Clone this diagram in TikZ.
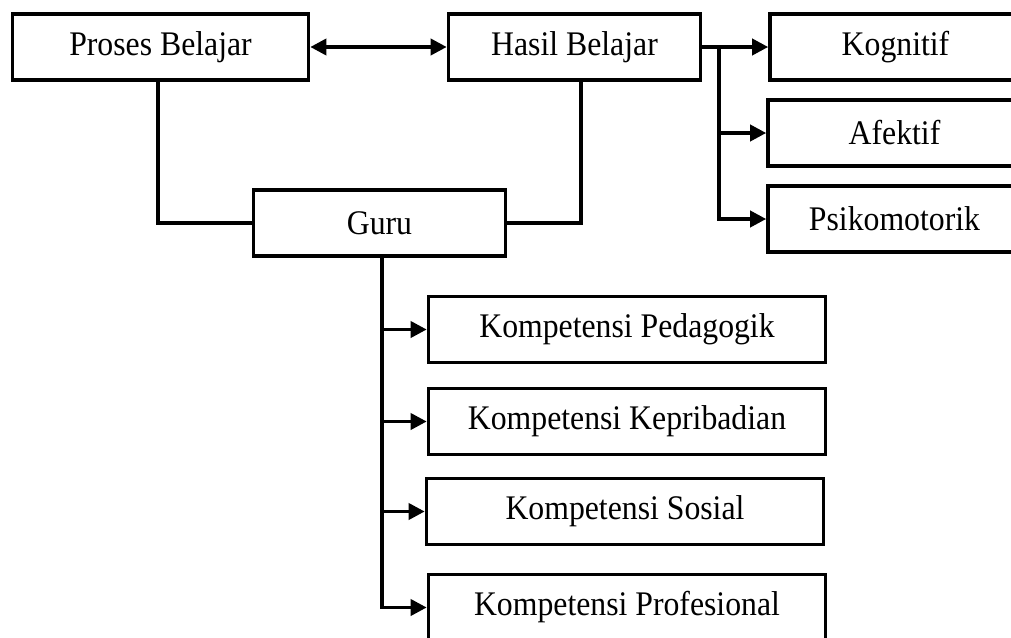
\documentclass[tikz,border=0pt]{standalone}
\usepackage{fontspec}
\setmainfont{Liberation Serif}[FakeStretch=0.92]
\usetikzlibrary{arrows.meta}
\begin{document}
\begin{tikzpicture}[x=1pt,y=-1pt,
  box/.style={draw,line width=3.6pt,minimum width=#1,minimum height=66pt,inner sep=0pt,
    font=\fontsize{34.5}{40}\selectfont},
  box/.default=300pt,
  conn/.style={line width=3.6pt},
  tip/.style={-{Triangle[length=16pt,width=16pt]}},
  arr/.style={conn,tip}]
\useasboundingbox (0,0) rectangle (1011,637);
\clip (0,0) rectangle (1011,637);

\node[box=296pt] (pb) at (160.5,47) {Proses Belajar};
\node[box=252pt] (hb) at (574.5,47) {Hasil Belajar};
\node[box=251pt] (kog) at (895.5,47) {Kognitif};
\node[box=253pt] (afe) at (894.5,133) {Afektif};
\node[box=253pt] (psi) at (894.5,219) {Psikomotorik};
\node[box=252pt] (guru) at (379.5,223) {Guru};
\node[box=397pt] (kped) at (627,329.5) {Kompetensi Pedagogik};
\node[box=397pt] (kkep) at (627,421.5) {Kompetensi Kepribadian};
\node[box=397pt] (ksos) at (625,511.5) {Kompetensi Sosial};
\node[box=397pt] (kpro) at (627,607.5) {Kompetensi Profesional};

\coordinate (br) at (719,47);
\coordinate (gb) at ([xshift=2.5pt]guru.south);

\draw[conn,{Triangle[length=16pt,width=16pt]}-{Triangle[length=16pt,width=16pt]}] (pb.east) -- (hb.west);
\draw[arr] (hb.east) -- (kog.west);
\draw[arr] (br) |- (afe.west);
\draw[arr] (br) |- (psi.west);

\draw[conn] ([xshift=-2.5pt]pb.south) |- (guru.west);
\draw[conn] ([xshift=6.5pt]hb.south) |- (guru.east);

\draw[arr] (gb) |- (kped.west);
\draw[arr] (gb) |- (kkep.west);
\draw[arr] (gb) |- (ksos.west);
\draw[arr] (gb) |- (kpro.west);
\end{tikzpicture}
\end{document}
